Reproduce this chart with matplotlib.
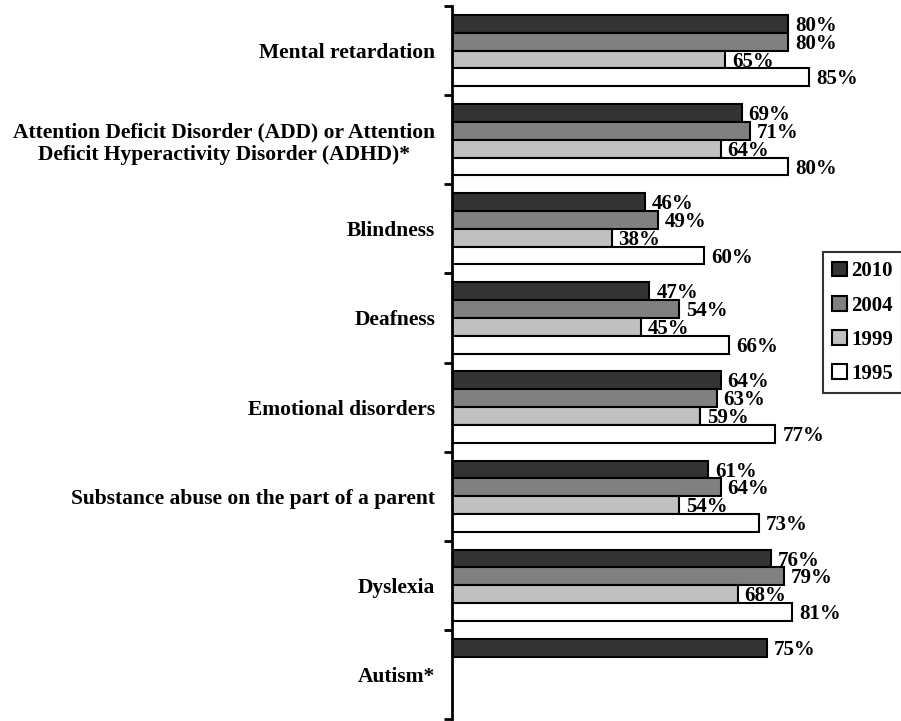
import matplotlib
matplotlib.use('Agg')
import matplotlib.pyplot as plt
import numpy as np

categories = ['Mental retardation',
              'Attention Deficit Disorder (ADD) or Attention\nDeficit Hyperactivity Disorder (ADHD)*',
              'Blindness',
              'Deafness',
              'Emotional disorders',
              'Substance abuse on the part of a parent',
              'Dyslexia',
              'Autism*']
years = ['2010', '2004', '1999', '1995']
v2010 = [80, 69, 46, 47, 64, 61, 76, 75]
v2004 = [80, 71, 49, 54, 63, 64, 79, None]
v1999 = [65, 64, 38, 45, 59, 54, 68, None]
v1995 = [85, 80, 60, 66, 77, 73, 81, None]
colors = ['#333333', '#808080', '#c0c0c0', '#ffffff']

plt.rcParams['font.family'] = ['Liberation Serif', 'DejaVu Serif']
plt.rcParams['font.weight'] = 'bold'

fig = plt.figure(figsize=(9.01, 7.21), dpi=100)
ax = fig.add_axes([452 / 901, 2 / 721, (872 - 452) / 901, 713 / 721])

bar_h = 0.2
offsets = [-0.3, -0.1, 0.1, 0.3]
centers = np.arange(len(categories)) + 0.5

for series, off, col, year in zip([v2010, v2004, v1999, v1995], offsets, colors, years):
    idx = [i for i, v in enumerate(series) if v is not None]
    vals = [series[i] for i in idx]
    ys = centers[idx] + off
    ax.barh(ys, vals, height=bar_h, color=col, edgecolor='black', linewidth=1.5, label=year)
    for y, v in zip(ys, vals):
        ax.annotate(f'{v}%', (v, y), xytext=(5, -1.5), textcoords='offset points',
                    ha='left', va='center', fontsize=15, fontweight='bold')

ax.set_xlim(0, 100)
ax.set_ylim(len(categories), 0)
ax.set_xticks([])
ax.set_yticks(np.arange(len(categories) + 1))
ax.set_yticklabels([])
ax.tick_params(axis='y', which='major', length=6, width=2)
ax.set_yticks(centers, categories, minor=True)
ax.tick_params(axis='y', which='minor', length=0, pad=12, labelsize=15.5)
for lab in ax.get_yticklabels(minor=True):
    lab.set_fontweight('bold')
    lab.set_multialignment('center')

for s in ['top', 'right', 'bottom']:
    ax.spines[s].set_visible(False)
ax.spines['left'].set_linewidth(2)

leg = fig.legend(loc='upper left', bbox_to_anchor=(823 / 901, 1 - 252 / 721),
                 prop={'size': 15, 'weight': 'bold'}, frameon=True, fancybox=False,
                 handlelength=0.7, handleheight=0.7, handletextpad=0.2,
                 labelspacing=0.68, borderpad=0.45, borderaxespad=0)
leg.get_frame().set_edgecolor('black')
leg.get_frame().set_linewidth(1.5)

fig.savefig('out.png', dpi=100)
